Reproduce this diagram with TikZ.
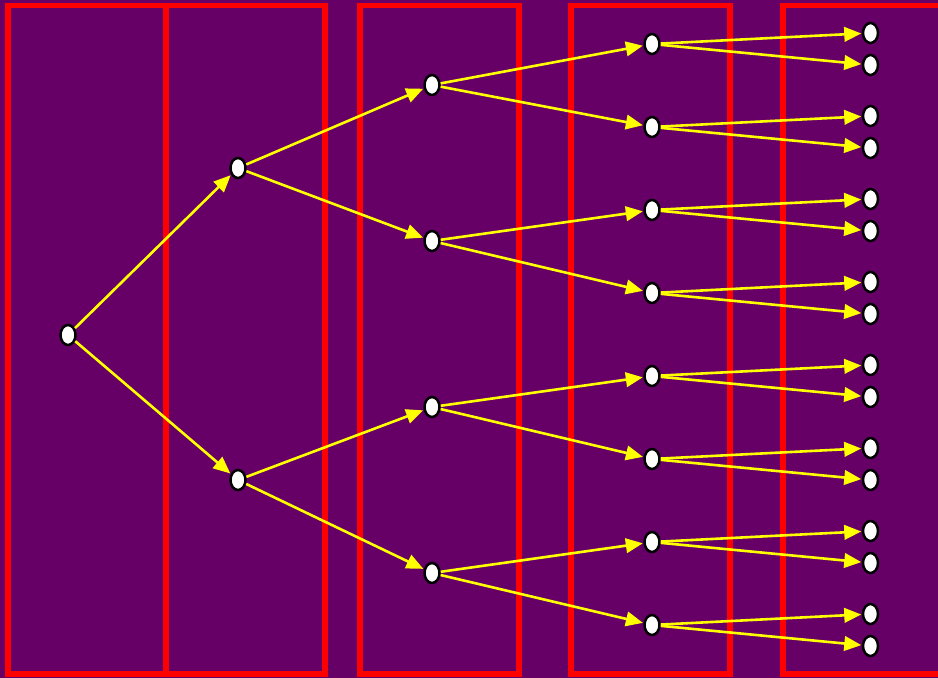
\documentclass[tikz,border=0pt]{standalone}
\usetikzlibrary{arrows.meta,shapes.geometric}
\definecolor{bgpurple}{RGB}{102,0,102}
\definecolor{boxred}{RGB}{255,0,0}
\definecolor{edgeyellow}{RGB}{255,255,0}
\tikzset{
  x=1pt,y=-1pt,
  treenode/.style={ellipse,draw=black,fill=white,line width=2.5pt,minimum width=15pt,minimum height=20pt,inner sep=0pt},
  treeedge/.style={draw=edgeyellow,line width=2.6pt,-{Triangle[length=17pt,width=14.5pt]},shorten >=0.5pt},
  stagebox/.style={draw=boxred,line width=5.5pt}
}
\begin{document}
\begin{tikzpicture}
\useasboundingbox (0,0) rectangle (938,678);
\fill[bgpurple] (0,0) rectangle (938,678);
% stage boxes
\draw[stagebox] (8,5.5) rectangle (166,674);
\draw[stagebox] (166,5.5) rectangle (325,674);
\draw[stagebox] (360,5.5) rectangle (519,674);
\draw[stagebox] (571,5.5) rectangle (730,674);
\draw[stagebox] (783,5.5) rectangle (948,674);
% nodes
\node[treenode] (r) at (68,335) {};
\node[treenode] (a1) at (238,168) {};
\node[treenode] (a2) at (238,480) {};
\node[treenode] (b1) at (432,85) {};
\node[treenode] (b2) at (432,241) {};
\node[treenode] (b3) at (432,407) {};
\node[treenode] (b4) at (432,573) {};
\foreach \i/\y in {1/44,2/127,3/210,4/293,5/376,6/459,7/542,8/625}{
  \node[treenode] (c\i) at (652,\y) {};
}
\foreach \i/\y in {1/33,2/65,3/116,4/148,5/199,6/231,7/282,8/314,9/365,10/397,11/448,12/480,13/531,14/563,15/614,16/646}{
  \node[treenode] (d\i) at (870.5,\y) {};
}
% edges
\draw[treeedge] (r) -- (a1);
\draw[treeedge] (r) -- (a2);
\draw[treeedge] (a1) -- (b1);
\draw[treeedge] (a1) -- (b2);
\draw[treeedge] (a2) -- (b3);
\draw[treeedge] (a2) -- (b4);
\draw[treeedge] (b1) -- (c1);
\draw[treeedge] (b1) -- (c2);
\draw[treeedge] (b2) -- (c3);
\draw[treeedge] (b2) -- (c4);
\draw[treeedge] (b3) -- (c5);
\draw[treeedge] (b3) -- (c6);
\draw[treeedge] (b4) -- (c7);
\draw[treeedge] (b4) -- (c8);
\foreach \i in {1,...,8}{
  \pgfmathtruncatemacro{\ja}{2*\i-1}
  \pgfmathtruncatemacro{\jb}{2*\i}
  \draw[treeedge] (c\i) -- (d\ja);
  \draw[treeedge] (c\i) -- (d\jb);
}
\end{tikzpicture}
\end{document}
